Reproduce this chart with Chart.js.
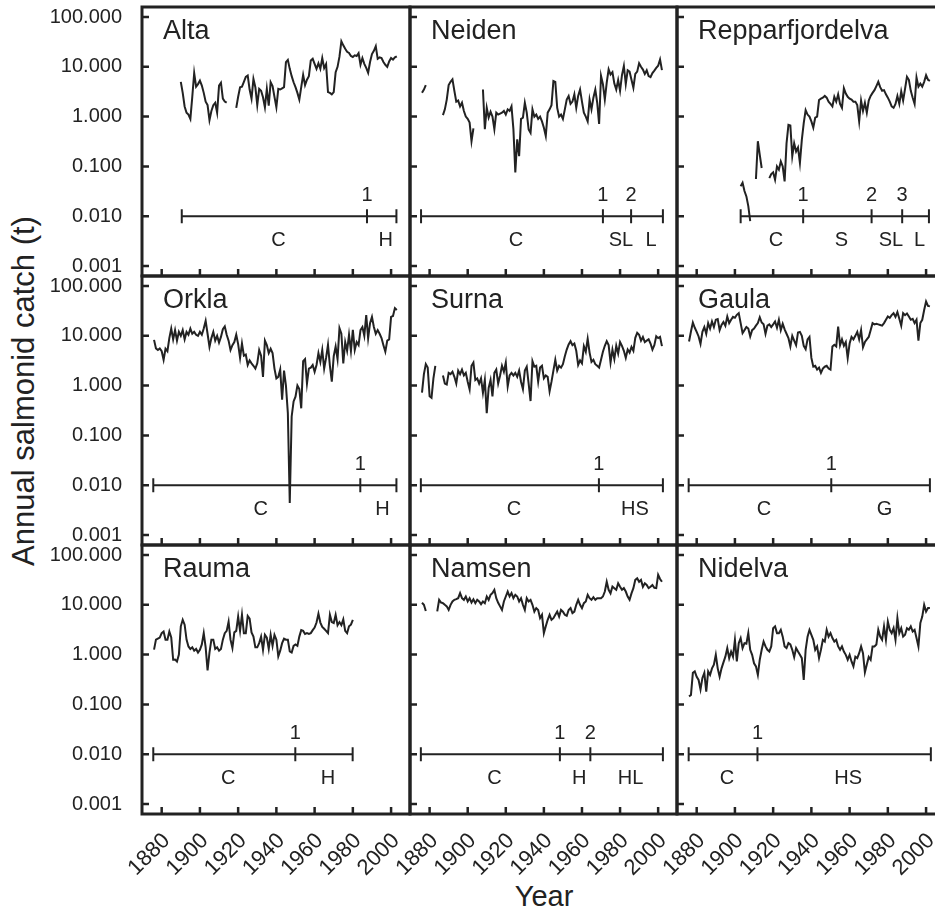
<!DOCTYPE html>
<html>
<head>
<meta charset="utf-8">
<script src="https://cdn.jsdelivr.net/npm/chart.js@4.4.1/dist/chart.umd.min.js"></script>
<style>
  html, body { margin: 0; padding: 0; background: #fff; overflow: hidden; }
  body { width: 935px; height: 911px; position: relative; font-family: "Liberation Sans", Arial, sans-serif; color: #222; }
  canvas.panel { position: absolute; left: -60px; top: -60px; }
  #ytitle { position: absolute; left: 24px; top: 391px; transform: translate(-50%, -50%) rotate(-90deg); font-size: 31px; white-space: nowrap; }
  #xtitle { position: absolute; left: 544px; top: 896px; transform: translate(-50%, -50%); font-size: 29px; white-space: nowrap; }
</style>
</head>
<body>
<div id="ytitle">Annual salmonid catch (t)</div>
<div id="xtitle">Year</div>
<script>
// tick labels
const xTickYears = [1880, 1900, 1920, 1940, 1960, 1980, 2000];
const yTickValues = [0.001, 0.01, 0.1, 1, 10, 100];
const yTickLabels = ['0.001', '0.010', '0.100', '1.000', '10.000', '100.000'];

const riverNames = ['Alta', 'Neiden', 'Repparfjordelva', 'Orkla', 'Surna', 'Gaula', 'Rauma', 'Namsen', 'Nidelva'];

// annual catch (t), one value per year from the start year
const altaStart = 1890;
const altaCatch = [
  5.0, 3.0, 1.6, 1.2, 1.1, 0.9, 2.5, 7.5, 4.0, 4.5,
  5.3, 4.2, 3.0, 2.0, 1.7, 0.85, 1.3, 1.7, 1.9, 1.2,
  4.2, 4.8, 2.3, 2.0, 1.9, null, null, null, null, 1.5,
  2.5, 3.9, 4.0, 5.0, 6.3, 6.7, 3.5, 2.3, 5.7, 3.9,
  1.7, 3.6, 3.3, 2.45, 1.54, 3.6, 1.66, 4.9, 4.1, 2.5,
  1.54, 3.6, 3.5, 3.7, 3.9, 12.4, 13.8, 9.1, 6.5, 4.9,
  3.9, 3.0, 2.2, 3.9, 6.9, 4.3, 5.5, 6.5, 13.4, 14.5,
  11.5, 9.1, 11.8, 9.1, 15.0, 9.4, 11.3, 3.1, 3.0, 2.8,
  3.1, 7.8, 10.0, 16.0, 32.5, 27.0, 23.0, 20.0, 19.0, 16.5,
  15.7, 17.0, 16.5, 18.8, 11.0, 15.0, 11.5, 9.5, 7.6, 12.5,
  18.0, 21.0, 26.0, 14.5, 15.5, 15.0, 12.5, 11.0, 10.0, 12.8,
  15.0, 14.0, 15.5, 16.3
];

const neidenStart = 1876;
const neidenCatch = [
  3.0, 3.5, 4.3, null,
  null, null, null, null, null, null, null, 1.07, 1.4, 2.2,
  4.3, 5.0, 5.6, 3.3, 2.0, 2.1, 1.6, 1.9, 1.3, 1.0,
  0.9, 0.76, 0.32, 0.58, null, null, null, null, 3.5, 0.56,
  1.5, 0.96, 1.25, 1.0, 0.56, 1.2, 1.1, 1.15, 1.2, 1.3,
  1.1, 1.4, 1.3, 1.6, 0.56, 0.076, 0.35, 0.16, 0.9, 0.95,
  1.9, 1.2, 0.55, 0.47, 1.4, 1.0, 1.1, 0.9, 1.0, 0.8,
  0.6, 0.41, 1.2, 1.4, 1.7, 5.2, 5.0, 1.5, 1.0, 1.1,
  0.9, 1.4, 2.2, 2.6, 1.8, 2.0, 2.8, 1.5, 2.6, 3.5,
  2.0, 1.2, 1.0, 0.8, 2.2, 1.4, 2.4, 3.5, 1.9, 0.71,
  6.6, 4.5, 2.2, 4.8, 8.9, 7.0, 7.8, 4.6, 3.5, 5.4,
  3.3, 6.8, 10.4, 4.5, 8.5, 8.0, 5.5, 3.8, 7.2, 8.0,
  11.8, 10.0, 8.8, 7.2, 8.5, 6.5, 6.2, 7.5, 8.4, 9.5,
  10.5, 14.0, 8.6
];

const repparStart = 1903;
const repparCatch = [
  0.04, 0.047, 0.032, 0.025, 0.016, 0.008, null,
  null, 0.056, 0.32, 0.17, 0.093, null, null, null, 0.058, 0.07,
  0.076, 0.054, 0.1, 0.086, 0.126, 0.1, 0.05, 0.29, 0.68, 0.66,
  0.16, 0.29, 0.2, 0.24, 0.117, 0.34, 0.74, 1.35, 1.1, 1.0,
  0.8, 0.6, 0.95, 1.0, 2.15, 2.3, 2.4, 2.6, 2.4, 2.0,
  1.8, 1.6, 2.5, 2.0, 2.8, 1.8, 1.5, 3.7, 2.9, 2.5,
  2.3, 2.2, 2.0, 2.0, 1.7, 0.8, 2.1, 1.3, 1.9, 1.2,
  2.1, 2.6, 3.0, 3.4, 4.1, 5.0, 3.9, 3.3, 3.4, 2.8,
  2.4, 2.0, 1.6, 1.5, 1.8, 2.6, 1.8, 3.2, 2.1, 3.6,
  6.3, 5.5, 3.3, 2.4, 1.8, 6.1, 4.0, 4.6, 4.0, 5.0,
  6.8, 5.5, 5.2
];

const orklaStart = 1876;
const orklaCatch = [
  8.3, 5.6, 5.2, 5.6,
  4.9, 3.3, 5.5, 4.9, 9.0, 14.0, 8.5, 13.0, 8.0, 12.0,
  10.0, 13.0, 8.5, 12.0, 10.5, 14.0, 11.0, 12.0, 10.5, 10.0,
  12.0, 10.5, 14.0, 20.0, 11.0, 6.0, 9.0, 12.0, 8.0, 10.0,
  7.3, 9.5, 13.6, 15.4, 10.5, 8.0, 5.2, 6.5, 7.5, 10.5,
  6.8, 3.6, 7.0, 4.0, 4.2, 2.6, 3.2, 2.8, 2.5, 2.2,
  2.8, 5.2, 4.0, 1.5, 8.0, 6.5, 4.5, 5.5, 4.5, 2.2,
  1.4, 1.5, 2.1, 0.52, 2.0, 1.0, 0.28, 0.0044, 0.24, 0.48,
  0.6, 1.0, 0.85, 0.35, 3.1, 3.4, 1.1, 2.2, 2.3, 2.6,
  1.9, 2.6, 4.5, 3.0, 5.2, 2.2, 3.6, 6.6, 2.5, 1.2,
  3.9, 6.1, 3.4, 14.3, 11.0, 2.8, 7.5, 5.0, 10.5, 5.0,
  13.2, 5.2, 7.5, 6.5, 13.0, 15.0, 10.0, 26.0, 9.0, 18.0,
  24.0, 15.0, 11.0, 13.0, 11.0, 9.0, 6.5, 4.8, 8.0, 8.5,
  24.0, 25.0, 36.0, 33.0
];

const surnaStart = 1876;
const surnaCatch = [
  0.72, 1.7, 2.7, 2.3,
  0.61, 0.57, 1.4, 2.5, null, null, null, 1.6, 1.1, 1.05,
  1.8, 1.7, 1.9, 1.5, 1.1, 2.0, 1.7, 2.1, 1.6, 1.8,
  1.2, 0.84, 2.5, 2.9, 1.3, 1.4, 1.1, 1.4, 0.72, 1.3,
  0.28, 0.9, 1.3, 0.61, 1.8, 2.1, 1.1, 1.6, 2.5, 1.9,
  2.9, 0.97, 1.6, 1.8, 1.6, 1.8, 1.5, 2.0, 1.2, 0.85,
  2.0, 2.4, 1.1, 0.49, 3.1, 2.4, 2.5, 1.2, 2.3, 2.5,
  1.4, 1.6, 1.5, 0.77, 1.2, 2.0, 3.3, 2.0, 2.5, 2.3,
  2.7, 3.9, 5.3, 6.7, 7.8, 6.5, 7.0, 5.0, 2.6, 3.2,
  2.8, 6.2, 4.8, 8.7, 4.6, 3.0, 3.3, 2.7, 2.5, 2.3,
  3.3, 4.8, 6.3, 7.8, 6.5, 2.9, 5.3, 3.4, 6.3, 4.4,
  7.5, 6.3, 5.0, 3.6, 5.3, 4.6, 6.0, 5.0, 9.1, 11.5,
  10.5, 8.0, 9.5, 7.5, 8.0, 8.5, 7.0, 5.3, 6.5, 9.8,
  9.0, 9.5, 6.2
];

const gaulaStart = 1876;
const gaulaCatch = [
  7.7, 12.2, 18.5, 14.5,
  12.0, 9.7, 6.9, 12.0, 15.0, 11.0, 18.0, 14.0, 19.4, 15.0,
  21.0, 21.6, 13.0, 16.5, 19.0, 16.0, 24.4, 18.0, 21.0, 24.0,
  23.0, 26.4, 28.5, 18.0, 11.3, 13.0, 15.0, 14.0, 9.7, 13.0,
  14.0, 16.0, 18.0, 23.6, 18.5, 17.0, 11.0, 16.0, 17.0, 15.0,
  17.0, 19.4, 14.5, 21.0, 13.0, 17.5, 13.5, 11.0, 9.0, 6.1,
  10.0, 8.0, 6.5, 11.7, 12.0, 10.0, 6.3, 5.4, 8.5, 9.5,
  3.6, 2.4, 2.5, 2.1, 2.3, 1.8, 2.2, 2.4, 2.5, 2.2,
  2.1, 6.1, 6.6, 6.1, 15.4, 6.5, 8.5, 6.3, 7.5, 3.6,
  7.0, 9.5, 8.5, 10.0, 12.0, 8.5, 13.0, 5.9, 7.5, 8.5,
  9.5, 13.0, 18.0, 17.0, 17.5, 17.0, 16.5, 16.0, 18.0, 21.0,
  24.5, 23.0, 26.0, 28.5, 24.0, 30.0, 22.0, 16.0, 28.5, 26.0,
  28.0, 24.5, 21.0, 22.0, 18.0, 21.0, 8.0, 18.0, 21.0, 33.0,
  49.0, 40.0, 39.0
];

const raumaStart = 1876;
const raumaCatch = [
  1.26, 2.0, 2.1, 2.2,
  2.7, 2.9, 2.0, 2.0, 2.9, 2.2, 0.79, 0.8, 0.73, 1.0,
  3.7, 5.0, 4.0, 2.0, 1.46, 1.3, 1.4, 1.2, 1.3, 1.1,
  1.25, 1.6, 2.7, 1.4, 0.48, 1.1, 2.0, 2.0, 1.3, 1.4,
  1.2, 1.3, 2.0, 2.7, 3.0, 4.6, 2.0, 1.36, 2.8, 3.0,
  5.8, 3.0, 6.3, 2.7, 2.7, 6.0, 5.3, 2.8, 2.3, 1.4,
  1.4, 1.7, 2.3, 1.25, 2.5, 2.2, 1.3, 2.5, 1.5, 2.5,
  2.0, 0.92, 1.2, 1.7, 2.1, 2.0, 2.0, 1.16, 1.1, 1.5,
  1.6, 1.5, 2.3, 3.1, 3.0, 2.6, 2.7, 2.6, 2.7, 3.1,
  3.5, 4.4, 6.6, 4.4, 3.6, 3.3, 3.0, 2.7, 6.3, 4.5,
  4.3, 6.3, 3.9, 4.5, 3.9, 5.1, 3.0, 2.7, 3.7, 4.0,
  5.0
];

const namsenStart = 1876;
const namsenCatch = [
  11.0, 10.0, 7.5, null,
  null, null, null, null, 7.4, 12.6, 11.1, 10.8, 10.0, 9.3,
  7.9, 10.0, 11.7, 12.6, 13.0, 13.6, 17.2, 13.6, 12.6, 14.7,
  11.7, 13.6, 11.1, 12.9, 10.8, 12.6, 11.7, 10.3, 11.7, 10.8,
  14.7, 12.6, 15.9, 17.2, 20.0, 13.6, 11.0, 9.3, 7.9, 11.7,
  14.7, 18.5, 14.7, 17.2, 13.6, 15.9, 14.7, 11.7, 13.6, 10.0,
  7.9, 13.6, 11.7, 12.6, 10.0, 7.3, 8.6, 7.9, 5.4, 6.3,
  2.7, 3.7, 5.0, 6.3, 5.0, 5.4, 6.3, 7.3, 5.8, 7.9,
  7.3, 6.3, 6.0, 7.9, 8.6, 6.8, 7.3, 10.0, 12.6, 10.0,
  8.6, 10.8, 11.7, 15.9, 13.6, 12.6, 14.2, 12.6, 13.6, 13.6,
  13.6, 14.7, 18.5, 29.0, 20.0, 17.0, 23.3, 21.6, 20.0, 27.0,
  23.0, 20.0, 21.6, 18.5, 14.7, 12.6, 17.0, 21.6, 31.7, 34.0,
  29.0, 31.7, 23.0, 27.0, 25.0, 21.6, 23.0, 25.0, 22.0, 21.6,
  40.0, 33.0, 29.0
];

const nidelvaStart = 1876;
const nidelvaCatch = [
  0.145, 0.155, 0.43, 0.46,
  0.36, 0.31, 0.2, 0.34, 0.43, 0.18, 0.46, 0.39, 0.53, 0.63,
  0.99, 0.53, 0.36, 0.53, 0.7, 0.91, 1.35, 0.85, 1.15, 0.91,
  1.98, 0.73, 1.7, 2.15, 1.35, 1.7, 1.65, 2.7, 1.25, 0.99,
  0.67, 0.58, 0.39, 0.79, 1.25, 1.83, 1.46, 1.25, 1.15, 1.46,
  3.4, 3.7, 2.7, 2.7, 3.15, 2.3, 1.46, 1.35, 1.7, 1.6,
  1.25, 0.89, 1.35, 1.15, 0.99, 0.85, 0.31, 1.25, 2.3, 3.15,
  2.5, 1.98, 1.25, 1.46, 0.85, 1.25, 1.98, 1.83, 3.15, 2.3,
  2.7, 2.15, 1.83, 1.98, 1.46, 1.25, 1.46, 1.15, 0.99, 0.79,
  0.99, 0.73, 0.58, 0.91, 0.85, 1.07, 1.46, 1.07, 0.44, 0.63,
  0.9, 0.79, 1.46, 1.46, 1.6, 3.15, 2.3, 1.98, 3.7, 1.98,
  4.6, 3.15, 2.7, 3.4, 1.98, 5.4, 2.7, 3.4, 2.3, 2.5,
  3.4, 3.15, 3.7, 2.9, 3.15, 2.15, 1.46, 4.3, 5.8, 10.0,
  7.3, 8.6, 8.6
];

// management periods: break years on the timeline and the period codes between them
const altaBreaks = [1890.5, 1987.4, 2002.8];
const altaPhases = ['C', 'H'];
const neidenBreaks = [1875.5, 1971, 1985.8, 2002.5];
const neidenPhases = ['C', 'SL', 'L'];
const repparBreaks = [1903, 1935.7, 1971.5, 1987.5, 2001.5];
const repparPhases = ['C', 'S', 'SL', 'L'];
const orklaBreaks = [1875.6, 1983.9, 2002.8];
const orklaPhases = ['C', 'H'];
const surnaBreaks = [1875.4, 1968.9, 2002.5];
const surnaPhases = ['C', 'HS'];
const gaulaBreaks = [1875.8, 1950.4, 2002];
const gaulaPhases = ['C', 'G'];
const raumaBreaks = [1875.6, 1949.9, 1979.9];
const raumaPhases = ['C', 'H'];
const namsenBreaks = [1875.4, 1948.4, 1964.4, 2002.5];
const namsenPhases = ['C', 'H', 'HL'];
const nidelvaBreaks = [1875.8, 1911.8, 2002.5];
const nidelvaPhases = ['C', 'HS'];

const rivers = [
  [altaStart, altaCatch, altaBreaks, altaPhases],
  [neidenStart, neidenCatch, neidenBreaks, neidenPhases],
  [repparStart, repparCatch, repparBreaks, repparPhases],
  [orklaStart, orklaCatch, orklaBreaks, orklaPhases],
  [surnaStart, surnaCatch, surnaBreaks, surnaPhases],
  [gaulaStart, gaulaCatch, gaulaBreaks, gaulaPhases],
  [raumaStart, raumaCatch, raumaBreaks, raumaPhases],
  [namsenStart, namsenCatch, namsenBreaks, namsenPhases],
  [nidelvaStart, nidelvaCatch, nidelvaBreaks, nidelvaPhases],
];

// page layout (panel frames in page pixels)
const M = 60;
const W = 935 + 2 * M, H = 911 + 2 * M;
const colX = [142, 410, 677, 945];
const rowY = [7, 276, 545, 814];
const yAxisW = 120, xAxisH = 80;
const xMin = 1869.7, xMax = 2009.9;
const yMin = 0.00063, yMax = 159;
const ink = '#222';
const FONT = '"Liberation Sans", Arial, sans-serif';

Chart.defaults.font.family = FONT;
Chart.defaults.color = ink;

const panelDecor = {
  id: 'panelDecor',
  afterDatasetsDraw(chart, args, opts) {
    const { ctx, chartArea: a } = chart;
    const x = chart.scales.x, y = chart.scales.y;
    ctx.save();
    ctx.strokeStyle = ink;
    ctx.fillStyle = ink;

    // management timeline at 0.010
    const ly = y.getPixelForValue(0.01);
    const bx = opts.breaks.map(v => x.getPixelForValue(v));
    ctx.lineWidth = 2;
    ctx.beginPath();
    ctx.moveTo(bx[0], ly);
    ctx.lineTo(bx[bx.length - 1], ly);
    bx.forEach(px => { ctx.moveTo(px, ly - 7); ctx.lineTo(px, ly + 7); });
    ctx.stroke();
    ctx.font = '20px ' + FONT;
    ctx.textAlign = 'center';
    ctx.textBaseline = 'alphabetic';
    for (let i = 1; i < bx.length - 1; i++) ctx.fillText(String(i), bx[i], ly - 15);
    opts.phases.forEach((p, i) => ctx.fillText(p, (bx[i] + bx[i + 1]) / 2 + 4, ly + 30));

    // river name
    ctx.font = '27px ' + FONT;
    ctx.textAlign = 'left';
    ctx.fillText(opts.name, a.left + 21, a.top + 32);

    // inward tick marks
    ctx.lineWidth = 2.5;
    ctx.beginPath();
    yTickValues.forEach(v => {
      const py = y.getPixelForValue(v);
      ctx.moveTo(a.left, py); ctx.lineTo(a.left + 7, py);
    });
    xTickYears.forEach(v => {
      const px = x.getPixelForValue(v);
      ctx.moveTo(px, a.bottom); ctx.lineTo(px, a.bottom - 7);
    });
    ctx.stroke();

    // frame
    ctx.lineWidth = 3;
    ctx.strokeRect(a.left, a.top, a.right - a.left, a.bottom - a.top);
    ctx.restore();
  }
};

rivers.forEach(([start, values, breaks, phases], i) => {
  const c = i % 3, r = Math.floor(i / 3);
  const showY = c === 0, showX = r === 2;
  const canvas = document.createElement('canvas');
  canvas.className = 'panel';
  canvas.width = W;
  canvas.height = H;
  document.body.appendChild(canvas);

  new Chart(canvas, {
    type: 'line',
    data: {
      datasets: [{
        data: values.map((v, k) => ({ x: start + k, y: v })),
        borderColor: ink,
        borderWidth: 2,
        pointRadius: 0,
        tension: 0,
        spanGaps: false
      }]
    },
    options: {
      responsive: false,
      animation: false,
      devicePixelRatio: 1,
      events: [],
      layout: {
        padding: {
          left: colX[c] + M - (showY ? yAxisW : 0),
          right: W - (colX[c + 1] + M),
          top: rowY[r] + M,
          bottom: H - (rowY[r + 1] + M) - (showX ? xAxisH : 0)
        }
      },
      plugins: {
        legend: { display: false },
        tooltip: { enabled: false },
        panelDecor: { name: riverNames[i], breaks, phases }
      },
      scales: {
        x: {
          type: 'linear',
          min: xMin,
          max: xMax,
          bounds: 'data',
          display: showX,
          grid: { display: false, drawTicks: false },
          border: { display: false },
          afterBuildTicks: s => { s.ticks = xTickYears.map(v => ({ value: v })); },
          afterFit: s => { if (showX) s.height = xAxisH; },
          ticks: {
            autoSkip: false,
            minRotation: 45,
            maxRotation: 45,
            padding: 14,
            labelOffset: 5,
            font: { size: 22 },
            callback: v => String(v)
          }
        },
        y: {
          type: 'logarithmic',
          min: yMin,
          max: yMax,
          bounds: 'data',
          display: showY,
          grid: { display: false, drawTicks: false },
          border: { display: false },
          afterBuildTicks: s => { s.ticks = yTickValues.map(v => ({ value: v })); },
          afterFit: s => { if (showY) s.width = yAxisW; },
          ticks: {
            padding: 20,
            font: { size: 20 },
            callback: v => yTickLabels[yTickValues.indexOf(v)]
          }
        }
      }
    },
    plugins: [panelDecor]
  });
});
</script>
</body>
</html>
